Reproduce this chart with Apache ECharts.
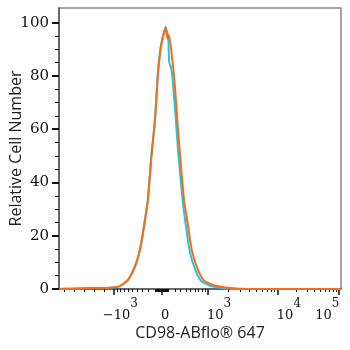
<!DOCTYPE html>
<html>
<head>
<meta charset="utf-8">
<script src="https://cdn.jsdelivr.net/npm/echarts@6/dist/echarts.min.js"></script>
<style>
  html, body { margin: 0; padding: 0; background: #fff; }
  #chart { width: 350px; height: 350px; }
</style>
</head>
<body>
<div id="chart"></div>
<script>
// histogram data, x in display channels (0-1024), y in % of max
var orangeX = [0, 40, 94, 138, 185, 221, 251, 276, 294, 305, 323, 336, 349, 359, 367, 374, 381, 387, 394, 399, 409, 421, 430, 439, 454, 469, 482, 500, 524, 559, 603, 650, 730, 1024];
var orangeY = [0, 0.1, 0.3, 0.4, 0.5, 1.1, 3.4, 8.4, 14.6, 20.9, 33.4, 50, 63.5, 80, 88.5, 93, 96, 97.9, 94, 95.4, 88.5, 76, 63, 51, 33.4, 23.4, 14.6, 8.4, 3.4, 1.5, 0.6, 0.1, 0, 0];
var cyanX = [0, 40, 94, 138, 185, 220, 250, 275, 293, 304, 322, 335, 348, 358, 366, 373, 380, 387, 397, 400, 409, 421, 433, 449, 463, 476, 494, 516, 548, 592, 639, 720, 1024];
var cyanY = [0, 0.1, 0.3, 0.4, 0.5, 1.1, 3.4, 8.4, 14.6, 20.9, 33.4, 50, 63.5, 80, 88.5, 93, 96, 98.5, 93.5, 85.4, 82.2, 68, 51, 33.4, 22, 13.5, 7.5, 3, 1.2, 0.4, 0.1, 0, 0];

// axis ticks (fluorescence values)
var majorVals = [-1000, 0, 1000, 10000, 100000];
var majorLabels = ['−10|3', '0| ', '10|3', '10|4', '10|5'];
var yLabels = [0, 20, 40, 60, 80, 100];

// biexponential-like display scale
var anchorV = [-1000, 0, 1000, 10000, 100000];
var anchorCh = [200, 374, 541, 795, 1017];
var W = 455;
function asinhW(v) { return Math.asinh(v / W); }
function toChannel(v) {
  if (v < -1000) return 200 + (v + 1000) * 0.036;
  var t = asinhW(v);
  for (var i = 0; i < anchorV.length - 1; i++) {
    var t0 = asinhW(anchorV[i]), t1 = asinhW(anchorV[i + 1]);
    if (t <= t1 || i == anchorV.length - 2) {
      return anchorCh[i] + (t - t0) / (t1 - t0) * (anchorCh[i + 1] - anchorCh[i]);
    }
  }
}

var minorVals = [];
for (var k = 2000; k <= 6000; k += 1000) minorVals.push(-k);
for (var k = 100; k <= 900; k += 100) { minorVals.push(-k); minorVals.push(k); }
for (var k = 10; k <= 90; k += 10) { minorVals.push(-k); minorVals.push(k); }
for (var k = 2000; k <= 9000; k += 1000) minorVals.push(k);
for (var k = 20000; k <= 90000; k += 10000) minorVals.push(k);

var majorCh = majorVals.map(toChannel);
var minorCh = minorVals.map(toChannel);
var yMinor = [];
for (var k = 5; k < 100; k += 5) if (k % 20 != 0) yMinor.push(k);

function zip(xs, ys) { return xs.map(function (x, i) { return [x, ys[i]]; }); }

// padding so that the digits start at the tick
var padLeft = [12.6, 10, 22, 22, 0];
function xLabel(value) {
  var idx = 0, best = 1e9;
  majorCh.forEach(function (c, i) { if (Math.abs(c - value) < best) { best = Math.abs(c - value); idx = i; } });
  var parts = majorLabels[idx].split('|');
  var s = '{n|' + parts[0] + '}{s|' + parts[1] + '}';
  if (idx == majorLabels.length - 1) return s + '{p| }';
  return '{p' + idx + '| }' + s;
}

var rich = {
  n: { fontFamily: 'DejaVu Serif', fontSize: 13, color: '#111' },
  s: { fontFamily: 'DejaVu Serif', fontSize: 12, color: '#111', padding: [0, 0, 24, 0] },
  p: { width: 23.5 }
};
padLeft.forEach(function (w, i) { rich['p' + i] = { width: w }; });

var chart = echarts.init(document.getElementById('chart'));
var option = {
  animation: false,
  grid: { left: 59, right: 9, top: 8, bottom: 61, outerBoundsMode: 'none', show: true, borderColor: '#888', borderWidth: 1.5 },
  xAxis: [
    {
      type: 'value', min: 0, max: 1024,
      name: 'CD98-ABflo® 647', nameLocation: 'middle', nameGap: 36, nameMoveOverlap: false,
      nameTextStyle: { fontFamily: 'Open Sans', fontSize: 16, color: '#222' },
      axisLine: { show: true, lineStyle: { color: '#555', width: 1.5 } },
      axisTick: { show: true, customValues: majorCh, length: 6, lineStyle: { color: '#111', width: 1.5 } },
      axisLabel: { customValues: majorCh, formatter: xLabel, rich: rich, margin: 9 },
      splitLine: { show: false }
    },
    {
      type: 'value', min: 0, max: 1024, position: 'bottom',
      axisLine: { show: false },
      axisTick: { show: true, customValues: minorCh, length: 3, lineStyle: { color: '#111', width: 1 } },
      axisLabel: { show: false },
      splitLine: { show: false }
    }
  ],
  yAxis: [
    {
      type: 'value', min: 0, max: 105.5,
      name: 'Relative Cell Number', nameLocation: 'middle', nameGap: 35, nameMoveOverlap: false,
      nameTextStyle: { fontFamily: 'Open Sans', fontSize: 16, color: '#222' },
      axisLine: { show: true, lineStyle: { color: '#555', width: 1.5 } },
      axisTick: { show: true, customValues: yLabels, length: 7, lineStyle: { color: '#111', width: 2 } },
      axisLabel: { customValues: yLabels, fontFamily: 'DejaVu Serif', fontSize: 15, color: '#111', margin: 10 },
      splitLine: { show: false }
    },
    {
      type: 'value', min: 0, max: 105.5, position: 'left',
      axisLine: { show: false },
      axisTick: { show: true, customValues: yMinor, length: 4, lineStyle: { color: '#111', width: 1 } },
      axisLabel: { show: false },
      splitLine: { show: false }
    }
  ],
  series: [
    {
      type: 'line', data: zip(cyanX, cyanY), showSymbol: false, smooth: 0.2,
      lineStyle: { color: '#1fc6e6', width: 2 }
    },
    {
      type: 'line', data: zip(orangeX, orangeY), showSymbol: false, smooth: 0.2,
      lineStyle: { color: '#fb6c12', width: 2 }
    }
  ]
};
chart.setOption(option);
</script>
</body>
</html>
